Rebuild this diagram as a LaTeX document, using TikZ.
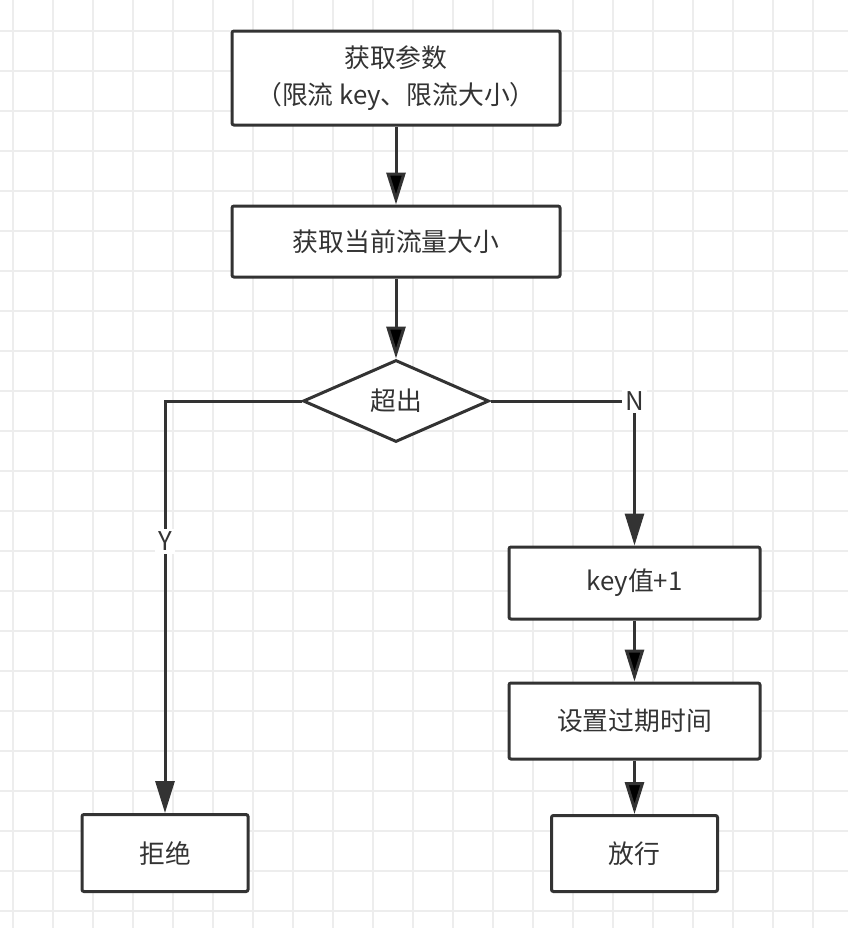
\documentclass[tikz,border=0pt]{standalone}
\usepackage{fontspec}
\setmainfont{Noto Sans CJK SC}
\usepackage{xcolor}
\usetikzlibrary{arrows.meta, shapes.geometric, positioning}
\definecolor{inkgray}{HTML}{333333}
\definecolor{gridgray}{HTML}{EDEDED}

\begin{document}
\begin{tikzpicture}[x=1pt, y=1pt, node distance=80pt, on grid, font=\fontsize{12.9}{18.5}\selectfont, text=inkgray,
  state/.style={rectangle, rounded corners=1pt, draw=inkgray, line width=1.5pt, fill=white, inner sep=0pt, align=center},
  check/.style={diamond, draw=inkgray, line width=1.5pt, fill=white, inner sep=0pt},
  answer/.style={fill=white, inner sep=1.5pt},
  flow/.style={draw=inkgray, line width=1.5pt, -{Triangle[length=16pt, width=9.5pt]}}]

            \useasboundingbox (0,0) rectangle (424,-464);
            \foreach \gx in {6.5,26.5,...,424} \draw[gridgray, line width=0.75pt] (\gx,0) -- (\gx,-464);
            \foreach \gy in {-15.5,-35.5,...,-464} \draw[gridgray, line width=0.75pt] (0,\gy) -- (424,\gy);

            \node[state, minimum width=164pt, minimum height=47pt] (params) at (198,-39) {获取参数\\（限流 key、限流大小）};
            \node[state, minimum width=164pt, minimum height=35.5pt, below=81.75pt of params] (current) {获取当前流量大小};
            \node[check, minimum width=93pt, minimum height=41pt, below=79.75pt of current] (cross) {超出};
            \node[state, minimum width=125.5pt, minimum height=36pt, below right=91pt and 119.25pt of cross] (keyinc) {key值+1};
            \node[state, minimum width=125.5pt, minimum height=38pt, below=69pt of keyinc] (expire) {设置过期时间};
            \node[state, minimum width=83pt, minimum height=38pt, below=66.25pt of expire] (pass) {放行};
            \node[state, minimum width=83pt, minimum height=38.5pt, below left=226pt and 115.5pt of cross] (reject) {拒绝};

            \path[flow]
            (params) edge (current)
            (current) edge (cross)
            (keyinc) edge (expire)
            (expire) edge (pass);

            \draw[flow] (cross.east) -| node[answer, pos=0.5] {N} (keyinc.north);
            \draw[flow] (cross.west) -| node[answer, pos=0.67] {Y} (reject.north);

        \end{tikzpicture}
\end{document}
